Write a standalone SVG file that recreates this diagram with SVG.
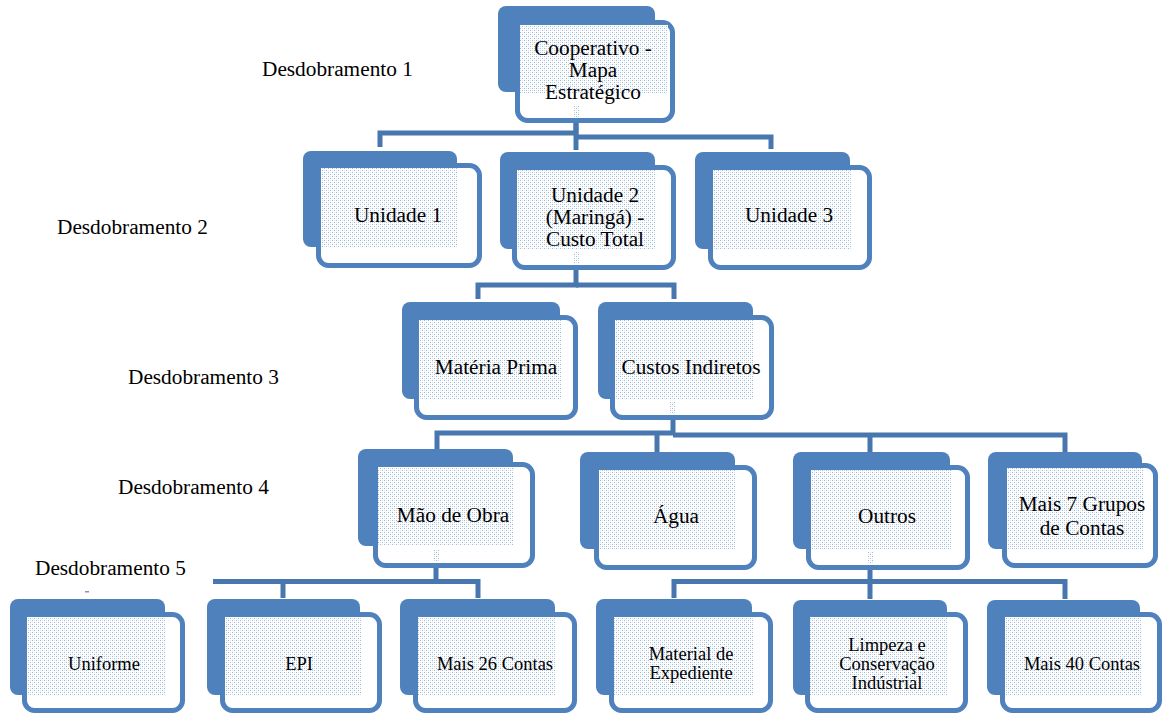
<svg xmlns="http://www.w3.org/2000/svg" width="1163" height="715" viewBox="0 0 1163 715">
  <style>
    .back { fill: #4f81bd; }
    .front { fill: #ffffff; stroke: #4f81bd; stroke-width: 5; }
    .tex { fill: url(#dots); }
    .conn path { fill: none; stroke: #4876ae; stroke-width: 5; stroke-linejoin: miter; stroke-linecap: butt; }
    text { font-family: "Liberation Serif", "Times New Roman", serif; fill: #000; text-anchor: middle; }
    .t { font-size: 21.3px; }
    .s { font-size: 18.5px; }
    .lvl { font-size: 21.3px; text-anchor: start; }
  </style>
  <defs>
    <pattern id="dots" width="4" height="4" patternUnits="userSpaceOnUse">
      <rect width="4" height="4" fill="#ffffff"/>
      <rect x="0" y="0" width="1" height="1" fill="#9fb8da"/>
      <rect x="2" y="2" width="1" height="1" fill="#9fb8da"/>
      <rect x="2" y="0" width="1" height="1" fill="#d7e2f0"/>
      <rect x="0" y="2" width="1" height="1" fill="#d7e2f0"/>
    </pattern>
  </defs>

  <!-- level captions -->
  <g id="levels">
    <text class="lvl" x="262" y="76">Desdobramento 1</text>
    <text class="lvl" x="57" y="234">Desdobramento 2</text>
    <text class="lvl" x="128" y="384">Desdobramento 3</text>
    <text class="lvl" x="118" y="494">Desdobramento 4</text>
    <text class="lvl" x="35" y="575">Desdobramento 5</text>
    <rect x="85" y="591" width="4" height="1.5" fill="#7f97b8"/>
  </g>

  <!-- elbow connectors -->
  <g id="connectors" class="conn">
    <path d="M576 121 V133 H380 V147"/>
    <path d="M576 121 V150"/>
    <path d="M576 137 H771 V149"/>

    <path d="M576 268 V285 H478 V299"/>
    <path d="M576 285 H674 V299"/>

    <path d="M673 418 V433 H437 V450"/>
    <path d="M673 435 H1065 V452"/>
    <path d="M657 435 V452"/>
    <path d="M870 435 V452"/>

    <path d="M436 566 V581.5 H213"/>
    <path d="M283 581.5 V598"/>
    <path d="M436 581.5 H478 V598"/>

    <path d="M870 568 V581.5 H674 V598"/>
    <path d="M870 581.5 V599"/>
    <path d="M870 581.5 H1065 V599"/>
  </g>

  <!-- level 1 -->
  <g id="n-cooperativo">
    <rect class="back" x="498" y="6" width="157" height="86" rx="8"/>
    <rect class="front" x="517.5" y="22.5" width="155" height="98" rx="10"/>
    <rect class="tex" x="520" y="25" width="148" height="68"/>
    <rect class="tex" x="573" y="106" width="6" height="12"/>
    <text class="t" x="593" y="55">Cooperativo -</text>
    <text class="t" x="593" y="77">Mapa</text>
    <text class="t" x="593" y="99">Estratégico</text>
  </g>

  <!-- level 2 -->
  <g id="n-unidade1">
    <rect class="back" x="303" y="151" width="154" height="96" rx="8"/>
    <rect class="front" x="318.5" y="165.5" width="161" height="100" rx="10"/>
    <rect class="tex" x="321" y="168" width="137" height="79"/>
    <text class="t" x="398" y="222">Unidade 1</text>
  </g>
  <g id="n-unidade2">
    <rect class="back" x="500" y="152" width="155" height="97" rx="8"/>
    <rect class="front" x="514.5" y="167.5" width="159" height="100" rx="10"/>
    <rect class="tex" x="517" y="170" width="139" height="79"/>
    <rect class="tex" x="573" y="252" width="6" height="12"/>
    <text class="t" x="595" y="202">Unidade 2</text>
    <text class="t" x="595" y="224">(Maringá) -</text>
    <text class="t" x="595" y="246">Custo Total</text>
  </g>
  <g id="n-unidade3">
    <rect class="back" x="695" y="152" width="155" height="97" rx="8"/>
    <rect class="front" x="710.5" y="167.5" width="159" height="100" rx="10"/>
    <rect class="tex" x="713" y="170" width="138" height="79"/>
    <text class="t" x="789" y="222">Unidade 3</text>
  </g>

  <!-- level 3 -->
  <g id="n-materia-prima">
    <rect class="back" x="402" y="302" width="158" height="97" rx="8"/>
    <rect class="front" x="416.5" y="317.5" width="159" height="100" rx="10"/>
    <rect class="tex" x="419" y="320" width="142" height="79"/>
    <text class="t" x="496" y="374">Matéria Prima</text>
  </g>
  <g id="n-custos-indiretos">
    <rect class="back" x="598" y="302" width="155" height="97" rx="8"/>
    <rect class="front" x="612.5" y="317.5" width="159" height="100" rx="10"/>
    <rect class="tex" x="615" y="320" width="139" height="79"/>
    <rect class="tex" x="670" y="402" width="6" height="12"/>
    <text class="t" x="691" y="374">Custos Indiretos</text>
  </g>

  <!-- level 4 -->
  <g id="n-mao-de-obra">
    <rect class="back" x="358" y="449" width="155" height="97" rx="8"/>
    <rect class="front" x="375.5" y="464.5" width="157" height="101" rx="10"/>
    <rect class="tex" x="378" y="467" width="136" height="79"/>
    <rect class="tex" x="433" y="549" width="6" height="12"/>
    <text class="t" x="453" y="522">Mão de Obra</text>
  </g>
  <g id="n-agua">
    <rect class="back" x="580" y="452" width="155" height="97" rx="8"/>
    <rect class="front" x="596.5" y="467.5" width="158" height="100" rx="10"/>
    <rect class="tex" x="599" y="470" width="137" height="79"/>
    <text class="t" x="676" y="523">Água</text>
  </g>
  <g id="n-outros">
    <rect class="back" x="793" y="452" width="157" height="97" rx="8"/>
    <rect class="front" x="808.5" y="467.5" width="159" height="100" rx="10"/>
    <rect class="tex" x="811" y="470" width="140" height="79"/>
    <rect class="tex" x="867" y="551" width="6" height="12"/>
    <text class="t" x="887" y="523">Outros</text>
  </g>
  <g id="n-mais-7-grupos">
    <rect class="back" x="988" y="452" width="154" height="97" rx="8"/>
    <rect class="front" x="1004.5" y="465.5" width="151" height="100" rx="10"/>
    <rect class="tex" x="1007" y="468" width="136" height="81"/>
    <text class="t" x="1082" y="511">Mais 7 Grupos</text>
    <text class="t" x="1082" y="535">de Contas</text>
  </g>

  <!-- level 5 -->
  <g id="n-uniforme">
    <rect class="back" x="10" y="599" width="155" height="96" rx="8"/>
    <rect class="front" x="24.5" y="614.5" width="158" height="96" rx="10"/>
    <rect class="tex" x="27" y="617" width="139" height="78"/>
    <text class="s" x="104" y="670">Uniforme</text>
  </g>
  <g id="n-epi">
    <rect class="back" x="207" y="599" width="153" height="96" rx="8"/>
    <rect class="front" x="222.5" y="614.5" width="157" height="96" rx="10"/>
    <rect class="tex" x="225" y="617" width="136" height="78"/>
    <text class="s" x="299" y="670">EPI</text>
  </g>
  <g id="n-mais-26-contas">
    <rect class="back" x="400" y="599" width="155" height="96" rx="8"/>
    <rect class="front" x="415.5" y="614.5" width="159" height="96" rx="10"/>
    <rect class="tex" x="418" y="617" width="138" height="78"/>
    <text class="s" x="495" y="670">Mais 26 Contas</text>
  </g>
  <g id="n-material-expediente">
    <rect class="back" x="596" y="599" width="156" height="96" rx="8"/>
    <rect class="front" x="611.5" y="614.5" width="159" height="96" rx="10"/>
    <rect class="tex" x="614" y="617" width="139" height="78"/>
    <text class="s" x="691" y="660">Material de</text>
    <text class="s" x="691" y="679">Expediente</text>
  </g>
  <g id="n-limpeza">
    <rect class="back" x="793" y="600" width="154" height="95" rx="8"/>
    <rect class="front" x="807.5" y="614.5" width="158" height="96" rx="10"/>
    <rect class="tex" x="810" y="617" width="138" height="78"/>
    <text class="s" x="887" y="651">Limpeza e</text>
    <text class="s" x="887" y="670">Conservação</text>
    <text class="s" x="887" y="689">Indústrial</text>
  </g>
  <g id="n-mais-40-contas">
    <rect class="back" x="987" y="600" width="153" height="95" rx="8"/>
    <rect class="front" x="1002.5" y="614.5" width="157" height="96" rx="10"/>
    <rect class="tex" x="1005" y="617" width="136" height="78"/>
    <text class="s" x="1082" y="670">Mais 40 Contas</text>
  </g>
</svg>
